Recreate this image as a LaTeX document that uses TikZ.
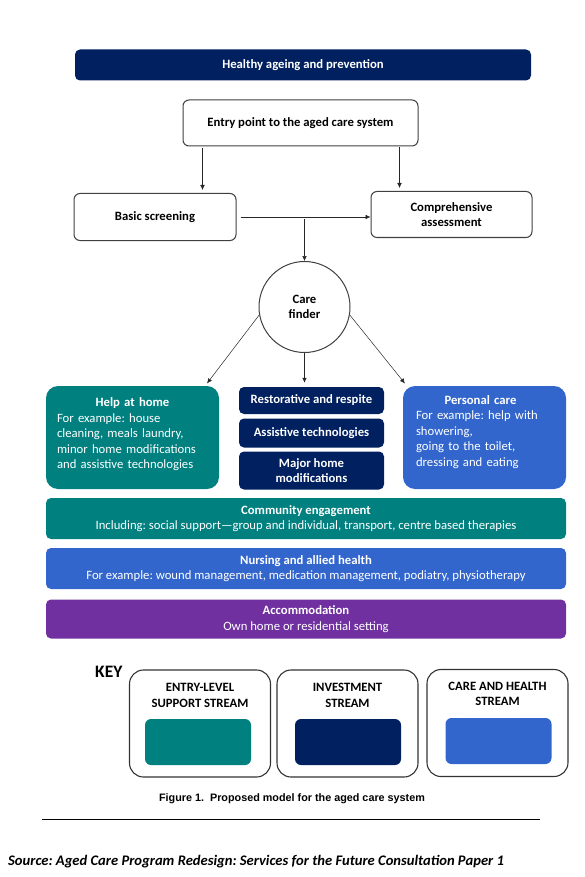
\documentclass[tikz,border=0pt]{standalone}
\usepackage{fontspec}
\setmainfont{Carlito}
\newfontfamily\captionfont{Liberation Sans}
\usetikzlibrary{arrows.meta,positioning}
\definecolor{navy}{HTML}{002060}
\definecolor{streamteal}{HTML}{00807F}
\definecolor{streamblue}{HTML}{3366CC}
\definecolor{streampurple}{HTML}{7030A0}
\newcommand{\bodysize}{\fontsize{12.7}{15.5}\selectfont}
\frenchspacing

\begin{document}
\begin{tikzpicture}[x=1pt,y=-1pt,
	outline/.style={draw=black!75,line width=1pt,rounded corners=6pt,fill=white,align=center,inner sep=0pt,font=\bodysize\bfseries},
	band/.style={rounded corners=5pt,text=white,align=center,inner sep=0pt,font=\bodysize},
	link/.style={-{Latex[length=5pt,width=4.5pt]},line width=0.5pt,black!85},
	keybox/.style={draw=black!80,line width=1.1pt,rounded corners=14pt,minimum width=141pt,minimum height=107pt},
	swatch/.style={rounded corners=6pt,minimum width=106pt,minimum height=46pt,inner sep=0pt}]
					\useasboundingbox (0,0) rectangle (585,877);
					%TOP
					\node[band,fill=navy,minimum width=456pt,minimum height=31pt,font=\bodysize\bfseries] (prevention) at (303,65) {Healthy ageing and prevention};
					\node[outline,minimum width=235pt,minimum height=46pt] (entry) at (300.5,123) {Entry point to the aged care system};
					\node[outline,minimum width=162pt,minimum height=47pt] (basic) at (155,217) {Basic screening};
					\node[outline,minimum width=161pt,minimum height=46pt] (comp) at (451.5,214.5) {Comprehensive\\assessment};
					\node[outline,circle,minimum size=91pt] (care) at (304.5,307) {Care\\finder};
					%ARROWS
					\draw[link,shorten <=2pt,shorten >=3pt] ([xshift=20pt]entry.south west) -- ([xshift=20pt]entry.south west |- basic.north);
					\draw[link,shorten <=1pt,shorten >=3pt] ([xshift=-19pt]entry.south east) -- ([xshift=-19pt]entry.south east |- comp.north);
					\coordinate (split) at (basic.east -| care);
					\draw[link,shorten <=4pt] (basic.east) -- (basic.east -| comp.west);
					\draw[link,shorten <=2pt] (split) -- (care);
					%SERVICES
					\node[band,fill=streamteal,rounded corners=12pt,minimum width=173pt,minimum height=103pt] (help) at (132.5,437.5) {};
					\node[text=white,font=\bodysize,text width=151pt,align=left,inner sep=0pt,below=12pt of help.north] (helptext) {\makebox[\hsize]{\bfseries Help at home}\\For example: house\\cleaning, meals laundry,\\minor home modifications\\and assistive technologies};
					\node[band,fill=streamblue,rounded corners=12pt,minimum width=163pt,minimum height=103pt] (personal) at (484.5,437.5) {};
					\node[text=white,font=\bodysize,text width=137pt,align=left,inner sep=0pt,below=9.5pt of personal.north] (personaltext) {\makebox[\hsize]{\bfseries Personal care\hspace{8pt}}\\For example: help with\\showering,\\going to the toilet,\\dressing and eating};
					\node[band,fill=navy,font=\bodysize\bfseries,minimum width=145pt,minimum height=27pt] (respite) at (311.5,400.5) {Restorative and respite};
					\node[band,fill=navy,font=\bodysize\bfseries,minimum width=145pt,minimum height=29pt] (assistive) at (311.5,433) {Assistive technologies};
					\node[band,fill=navy,font=\bodysize\bfseries,minimum width=145pt,minimum height=38pt] (major) at (311.5,470.5) {Major home\\modifications};
					\draw[link,shorten >=3pt] (care.190) -- ([xshift=-14pt]help.north east);
					\draw[link,shorten >=4pt] (care.south) -- (care.south |- respite.north);
					\draw[link,shorten >=3pt] (care.-10) -- ([xshift=4pt]personal.north west);
					%STREAMS
					\node[band,fill=streamteal,minimum width=520pt,minimum height=41pt] (community) at (306,518.5) {\textbf{Community engagement}\\Including: social support---group and individual, transport, centre based therapies};
					\node[band,fill=streamblue,minimum width=520pt,minimum height=41pt] (nursing) at (306,568.5) {\textbf{Nursing and allied health}\\For example: wound management, medication management, podiatry, physiotherapy};
					\node[band,fill=streampurple,minimum width=520pt,minimum height=39pt] (accommodation) at (306,619) {\textbf{Accommodation}\\Own home or residential setting};
					%KEY
					\node[font=\fontsize{17.5}{20}\selectfont\bfseries,anchor=west,inner sep=0pt] (key) at (95,672) {KEY};
					\node[keybox] (entrykey) at (200,723.5) {};
					\node[keybox] (investkey) at (347.5,723.5) {};
					\node[keybox] (carekey) at (497.5,723) {};
					\node[below=14pt of entrykey.north,align=center,inner sep=0pt,font=\bodysize\bfseries] (entrylabel) {ENTRY-LEVEL\\SUPPORT STREAM};
					\node[below=14pt of investkey.north,align=center,inner sep=0pt,font=\bodysize\bfseries] (investlabel) {INVESTMENT\\STREAM};
					\node[below=13pt of carekey.north,align=center,inner sep=0pt,font=\bodysize\bfseries] (carelabel) {CARE AND HEALTH\\STREAM};
					\node[swatch,fill=streamteal] (entryswatch) at (198,742) {};
					\node[swatch,fill=navy] (investswatch) at (348,742) {};
					\node[swatch,fill=streamblue] (careswatch) at (498.5,741) {};
					%CAPTION
					\node[font=\captionfont\fontsize{10.8}{12}\selectfont\bfseries] (caption) at (292,799) {Figure 1.\ \ Proposed model for the aged care system};
					\coordinate (ruleL) at (42,819);
					\coordinate (ruleR) at (540,819);
					\draw[line width=0.8pt] (ruleL) -- (ruleR);
					\node[anchor=west,inner sep=0pt,font=\fontsize{14.6}{16}\selectfont\bfseries\itshape] (source) at (8,862) {Source: Aged Care Program Redesign: Services for the Future Consultation Paper 1};
\end{tikzpicture}
\end{document}
